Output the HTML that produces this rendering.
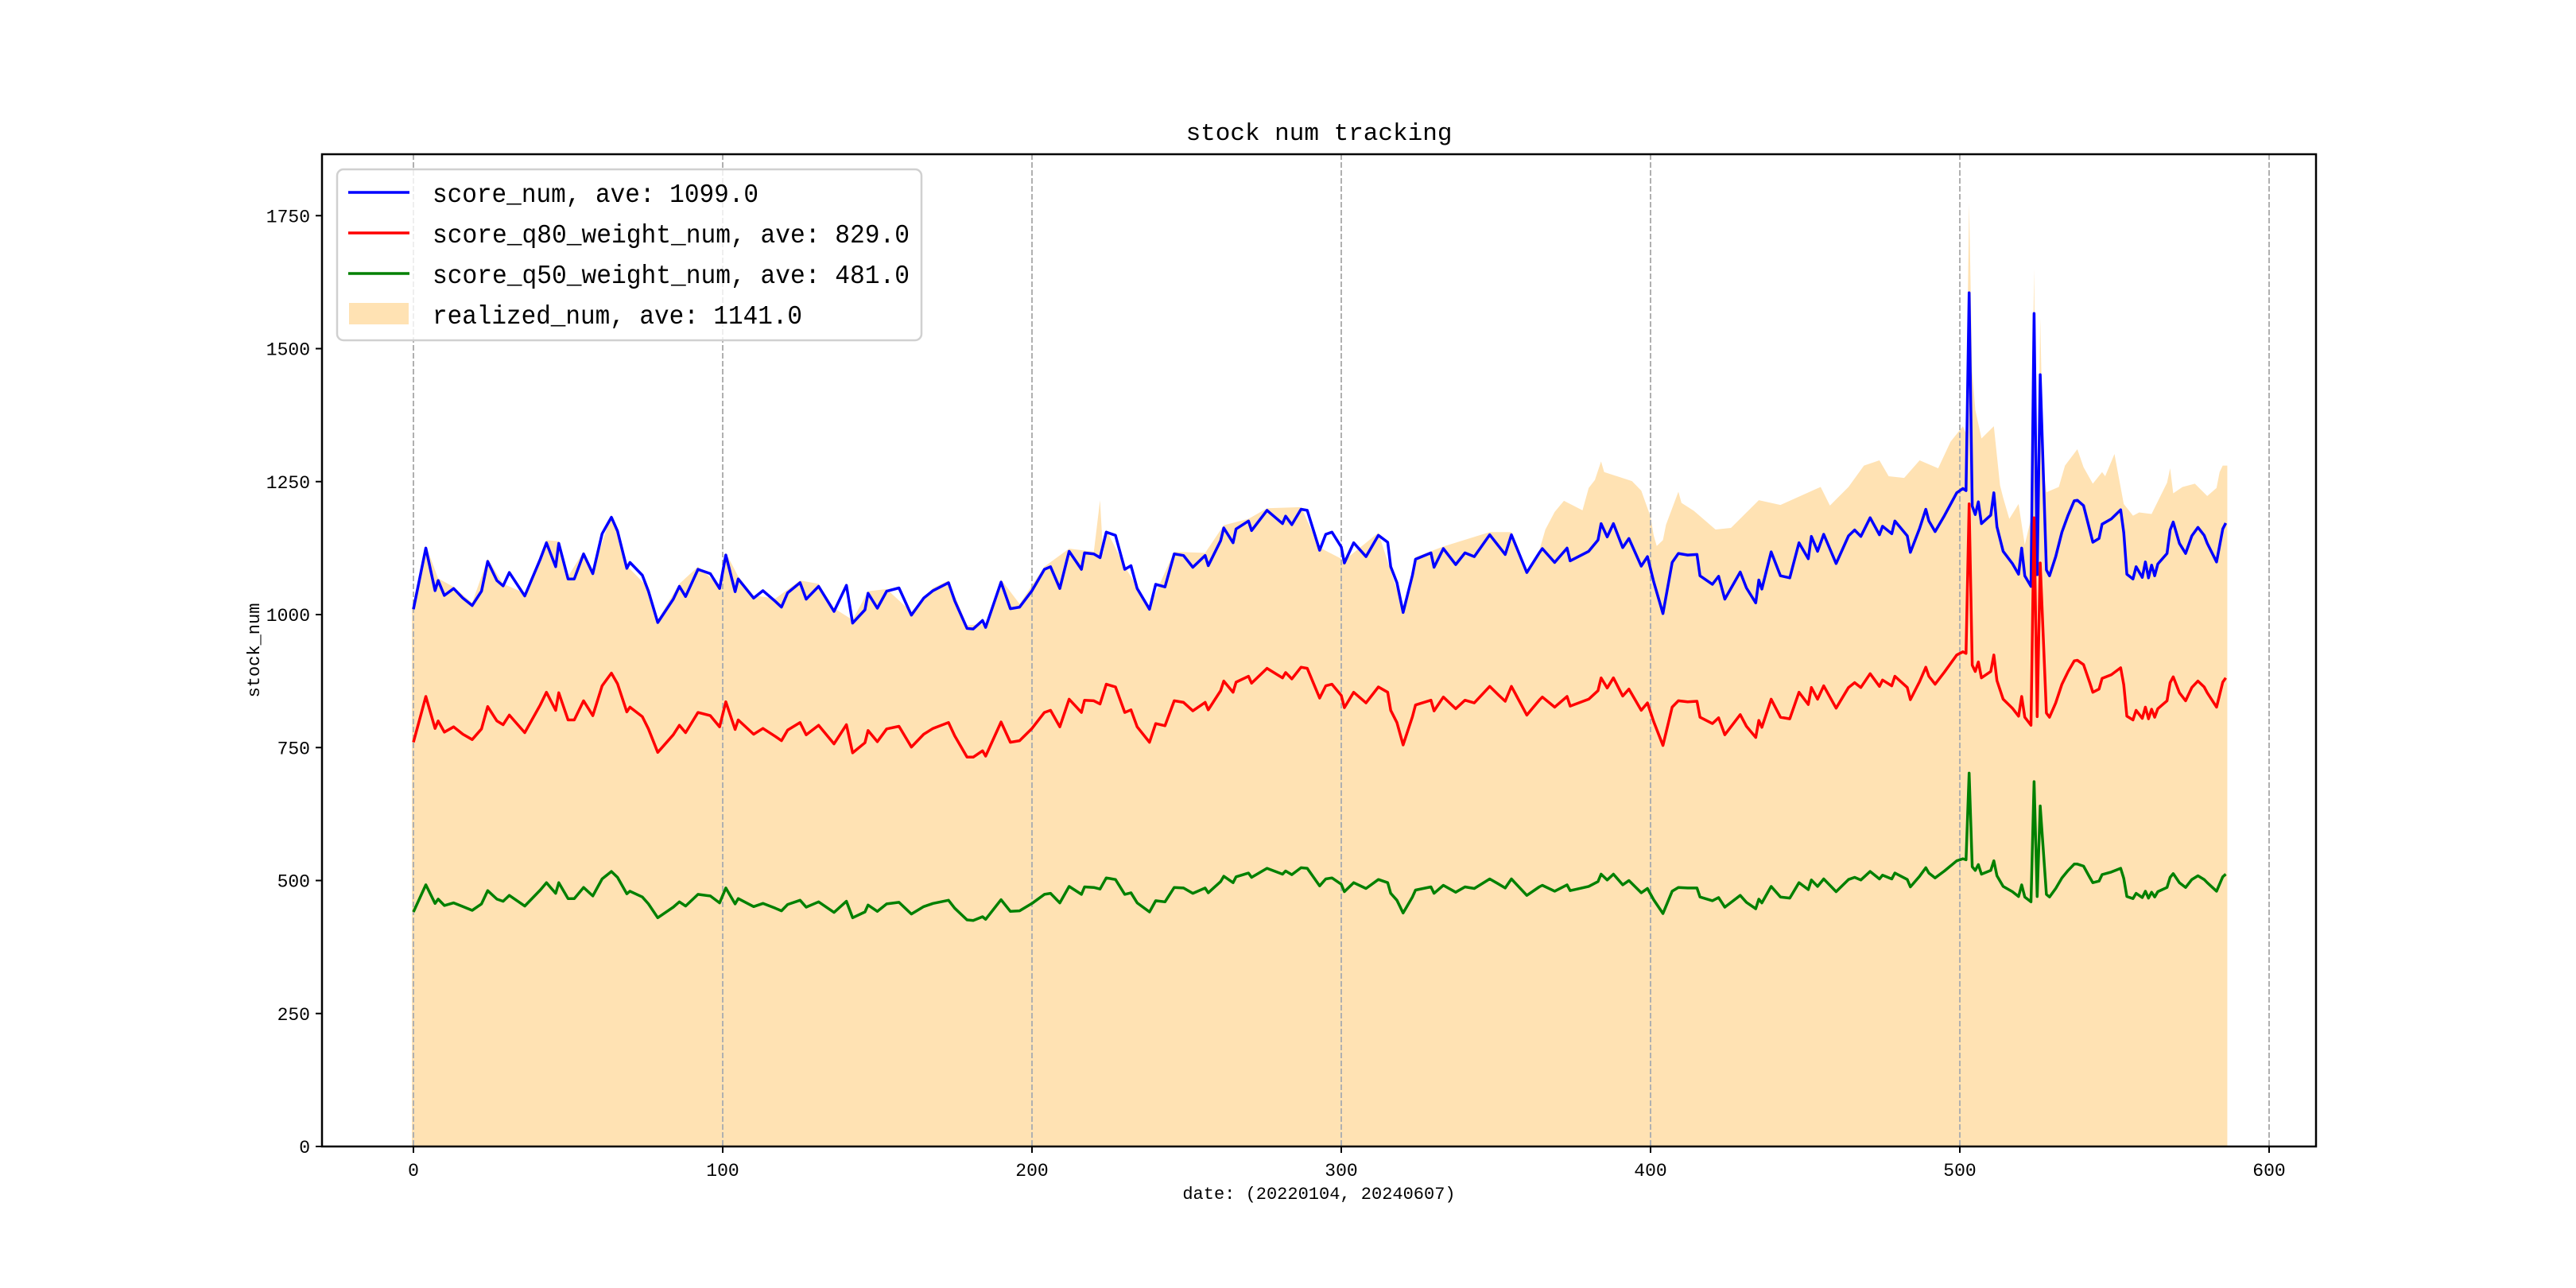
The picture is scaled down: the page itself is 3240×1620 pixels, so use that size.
<!DOCTYPE html>
<html><head><meta charset="utf-8"><style>
html,body{margin:0;padding:0;background:#fff;}
svg{display:block;}
text{font-family:"Liberation Mono","Noto Sans CJK SC",monospace;fill:#000;}
</style></head><body>
<svg id="chart" width="3240" height="1620" viewBox="0 0 3240 1620" xmlns="http://www.w3.org/2000/svg">
<rect x="0" y="0" width="3240" height="1620" fill="#fff"/>
<g id="realized-layer"></g>
<g id="grid"></g>
<g id="lines"></g>
<rect x="405" y="194" width="2508" height="1248" fill="none" stroke="#000" stroke-width="2.5"/>
<g id="axes"></g>
<text x="1659" y="176" text-anchor="middle" font-size="31">stock num tracking</text>
<text x="1659" y="1508" text-anchor="middle" font-size="22">date: (20220104, 20240607)</text>
<text x="326" y="818" text-anchor="middle" font-size="22" transform="rotate(-90 326 818)">stock_num</text>
<g>
<rect x="424" y="213" width="735" height="215" rx="8" fill="#fff" fill-opacity="0.8" stroke="#d0d0d0" stroke-width="2.5"/>
<g><line x1="438" y1="242" x2="515" y2="242" stroke="#0000ff" stroke-width="3.5"/><text x="544" y="254" font-size="33" textLength="410" lengthAdjust="spacingAndGlyphs">score_num, ave: 1099.0</text></g>
<g><line x1="438" y1="293" x2="515" y2="293" stroke="#ff0000" stroke-width="3.5"/><text x="544" y="305" font-size="33" textLength="600" lengthAdjust="spacingAndGlyphs">score_q80_weight_num, ave: 829.0</text></g>
<g><line x1="438" y1="344" x2="515" y2="344" stroke="#008000" stroke-width="3.5"/><text x="544" y="356" font-size="33" textLength="600" lengthAdjust="spacingAndGlyphs">score_q50_weight_num, ave: 481.0</text></g>
<g><rect x="439" y="381" width="75" height="27" fill="#ffe2b3"/><text x="544" y="407" font-size="33" textLength="465" lengthAdjust="spacingAndGlyphs">realized_num, ave: 1141.0</text></g>
</g>
</svg>
<script>
const xTicks=[0,100,200,300,400,500,600];
const yTicks=[0,250,500,750,1000,1250,1500,1750];
const days=[0,4,7,8,10,13,16,19,22,24,27,29,31,36,41,43,46,47,50,52,55,58,61,64,66,69,70,74,76,79,84,86,88,92,96,99,101,104,105,110,113,117,119,121,125,127,131,136,140,142,146,147,150,153,157,161,165,168,173,175,179,181,184,185,190,193,196,200,204,206,209,212,216,217,220,222,224,227,230,232,234,238,240,243,246,249,252,256,257,261,262,265,266,270,271,276,281,282,284,287,289,293,295,297,300,301,304,308,312,315,316,318,320,323,324,329,330,333,337,340,343,348,351,353,355,360,364,365,369,373,374,380,383,384,386,388,391,393,397,399,401,404,407,409,412,415,416,420,422,424,429,431,434,435,436,439,442,445,448,451,452,454,456,460,464,466,468,471,474,475,478,479,483,484,487,489,490,492,495,499,501,502,503,504,505,506,507,510,511,512,514,517,519,520,521,523,524,525,526,528,529,531,533,535,537,538,540,542,543,545,546,549,552,553,554,556,557,559,560,561,562,563,564,567,568,569,571,573,575,577,579,580,583,585,586];
const scoreNum=[1010,1125,1045,1064,1036,1049,1031,1017,1044,1100,1064,1054,1079,1035,1104,1135,1090,1134,1067,1067,1114,1077,1152,1183,1157,1087,1098,1074,1044,985,1029,1053,1034,1085,1077,1049,1112,1043,1067,1031,1045,1025,1014,1041,1060,1029,1053,1006,1055,984,1009,1040,1012,1044,1050,999,1031,1045,1060,1026,974,973,989,976,1061,1011,1014,1045,1085,1090,1049,1119,1085,1116,1114,1107,1155,1149,1085,1092,1049,1010,1057,1052,1114,1111,1089,1111,1092,1139,1163,1135,1161,1176,1158,1196,1171,1185,1169,1198,1196,1121,1151,1155,1127,1097,1135,1109,1149,1136,1090,1060,1004,1074,1104,1116,1089,1124,1094,1116,1109,1150,1128,1113,1150,1079,1116,1124,1098,1125,1101,1119,1140,1171,1146,1171,1126,1143,1091,1109,1062,1002,1098,1115,1112,1113,1073,1057,1072,1029,1080,1050,1022,1065,1048,1118,1073,1069,1135,1105,1147,1119,1151,1096,1148,1159,1147,1182,1150,1166,1152,1176,1148,1117,1162,1198,1176,1156,1186,1229,1237,1233,1605,1204,1188,1212,1171,1187,1229,1165,1119,1096,1076,1125,1073,1053,1566,1075,1451,1084,1073,1109,1155,1187,1214,1215,1205,1159,1136,1143,1170,1180,1197,1154,1076,1067,1090,1070,1099,1069,1093,1073,1095,1115,1159,1174,1134,1115,1148,1164,1149,1134,1099,1161,1172];
const scoreQ80=[760,846,786,800,779,789,775,765,785,827,800,793,811,778,830,854,820,853,802,802,838,810,866,890,870,817,826,808,785,741,774,792,778,816,810,789,836,784,802,775,786,771,763,783,797,774,792,757,793,740,759,782,761,785,790,751,775,786,797,772,732,732,744,734,798,760,763,786,816,820,789,841,816,839,838,832,869,864,816,821,789,760,795,791,838,835,819,835,821,857,875,854,873,884,871,899,881,891,879,901,899,843,866,869,848,825,854,834,864,854,820,797,755,808,830,839,819,845,823,839,834,865,848,837,865,811,839,845,826,846,828,841,857,881,862,881,847,860,820,834,799,754,826,838,836,837,807,795,806,774,812,790,769,801,788,841,807,804,854,831,863,841,866,824,863,872,863,889,865,877,866,884,863,840,874,901,884,869,892,924,930,927,1208,905,893,911,881,893,924,876,841,824,809,846,807,792,1182,808,1097,815,807,834,869,893,913,914,906,872,854,860,880,887,900,868,809,802,820,805,826,804,822,807,823,838,872,883,853,838,863,875,864,853,826,873,881];
const scoreQ50=[441,492,457,465,453,458,451,444,456,481,465,461,472,452,482,496,476,496,466,466,487,471,503,517,506,475,480,469,456,430,450,460,452,474,471,458,486,456,466,451,457,448,443,455,463,450,460,440,461,430,441,454,442,456,459,437,451,457,463,448,426,425,432,427,464,442,443,457,474,476,458,489,474,488,487,484,505,502,474,477,458,441,462,460,487,486,476,486,477,498,508,496,507,514,506,523,512,518,511,524,523,490,503,505,493,479,496,485,502,496,476,463,439,469,482,488,476,491,478,488,485,503,493,486,503,472,488,491,480,492,481,489,498,512,501,512,492,500,477,485,464,438,480,487,486,486,469,462,468,450,472,459,447,465,458,489,469,467,496,483,501,489,503,479,502,506,501,517,503,510,503,514,502,488,508,524,514,505,518,537,541,539,702,526,519,530,512,519,537,509,489,479,470,492,469,460,686,470,640,474,469,485,505,519,531,531,527,506,496,499,511,516,523,504,470,466,476,468,480,467,478,469,479,487,506,513,496,487,502,509,502,496,480,507,512];
const realizedDays=[0,4,8,13,19,24,29,36,43,47,50,55,58,64,69,76,79,86,92,99,101,105,110,117,125,131,136,142,147,153,161,168,173,179,185,190,196,204,212,220,222,223,224,230,238,246,256,262,270,276,287,293,301,312,320,324,333,348,355,360,364,366,369,372,378,380,382,384,385,394,397,400,401,402,404,405,409,410,414,421,426,435,442,455,458,464,469,474,477,482,487,493,497,501,502,503,504,505,507,511,513,514,516,519,521,523,524,525,526,527,528,532,534,538,540,543,546,547,550,553,556,558,562,567,568,569,572,576,580,583,584,585,586];
const realizedNum=[1015,1130,1068,1052,1022,1105,1058,1040,1140,1138,1072,1118,1082,1188,1092,1050,990,1058,1090,1054,1116,1072,1036,1030,1064,1058,1012,990,1044,1048,1005,1050,1064,980,982,1066,1020,1090,1124,1118,1215,1112,1160,1090,1015,1118,1116,1168,1180,1200,1202,1126,1102,1154,1010,1108,1128,1155,1155,1084,1120,1160,1193,1214,1196,1238,1253,1288,1268,1251,1233,1184,1149,1129,1140,1169,1231,1210,1195,1160,1163,1215,1206,1240,1205,1240,1280,1290,1260,1257,1290,1275,1325,1354,1340,1774,1457,1385,1331,1354,1243,1220,1180,1208,1131,1180,1650,1150,1557,1275,1230,1240,1280,1311,1277,1246,1268,1260,1302,1208,1186,1192,1189,1248,1275,1228,1240,1246,1223,1238,1268,1280,1280];

const NS='http://www.w3.org/2000/svg';
const X0=520, XU=3.89, Y0=1442, YU=0.669;
function xs(v){return X0+v*XU;}
function ys(v){return Y0-v*YU;}
function mk(tag,attrs,parent){const e=document.createElementNS(NS,tag);for(const k in attrs)e.setAttribute(k,attrs[k]);parent.appendChild(e);return e;}

// realized area
const rl=document.getElementById('realized-layer');
let d='M'+(xs(realizedDays[0])-1.9)+','+Y0;
d+=' L'+(xs(realizedDays[0])-1.9)+','+ys(realizedNum[0]);
for(let i=0;i<realizedDays.length;i++){d+=' L'+xs(realizedDays[i])+','+ys(realizedNum[i]);}
const last=realizedDays[realizedDays.length-1];
d+=' L'+(xs(last)+1.9)+','+ys(realizedNum[realizedNum.length-1])+' L'+(xs(last)+1.9)+','+Y0+' Z';
const area=mk('path',{d:d,fill:'#ffe2b3',stroke:'none'},rl);



// grid
const g=document.getElementById('grid');
xTicks.forEach(t=>{
  const l=mk('line',{x1:xs(t),y1:194,x2:xs(t),y2:1442,stroke:'#b0b0b0','stroke-width':2,'stroke-dasharray':'7,3'},g);
  
  
});

// lines
const lg=document.getElementById('lines');
function drawLine(arr,color,name){
  let p='';
  for(let i=0;i<days.length;i++){p+=(i?' L':'M')+xs(days[i]).toFixed(1)+','+ys(arr[i]).toFixed(1);}
  const e=mk('path',{d:p,fill:'none',stroke:color,'stroke-width':3.5,'stroke-linejoin':'round'},lg);
  
  
}
drawLine(scoreNum,'#0000ff','score-num-line');
drawLine(scoreQ80,'#ff0000','score-q80-line');
drawLine(scoreQ50,'#008000','score-q50-line');

// axes ticks
const ax=document.getElementById('axes');
xTicks.forEach(t=>{
  mk('line',{x1:xs(t),y1:1442,x2:xs(t),y2:1450,stroke:'#000','stroke-width':2},ax);
  const tx=mk('text',{x:xs(t),y:1479,'text-anchor':'middle','font-size':23},ax);
  tx.textContent=t;
  
  
});
yTicks.forEach(t=>{
  mk('line',{x1:397,y1:ys(t),x2:405,y2:ys(t),stroke:'#000','stroke-width':2},ax);
  const tx=mk('text',{x:390,y:ys(t)+8,'text-anchor':'end','font-size':23},ax);
  tx.textContent=t;
  
  
});
</script>
</body></html>
